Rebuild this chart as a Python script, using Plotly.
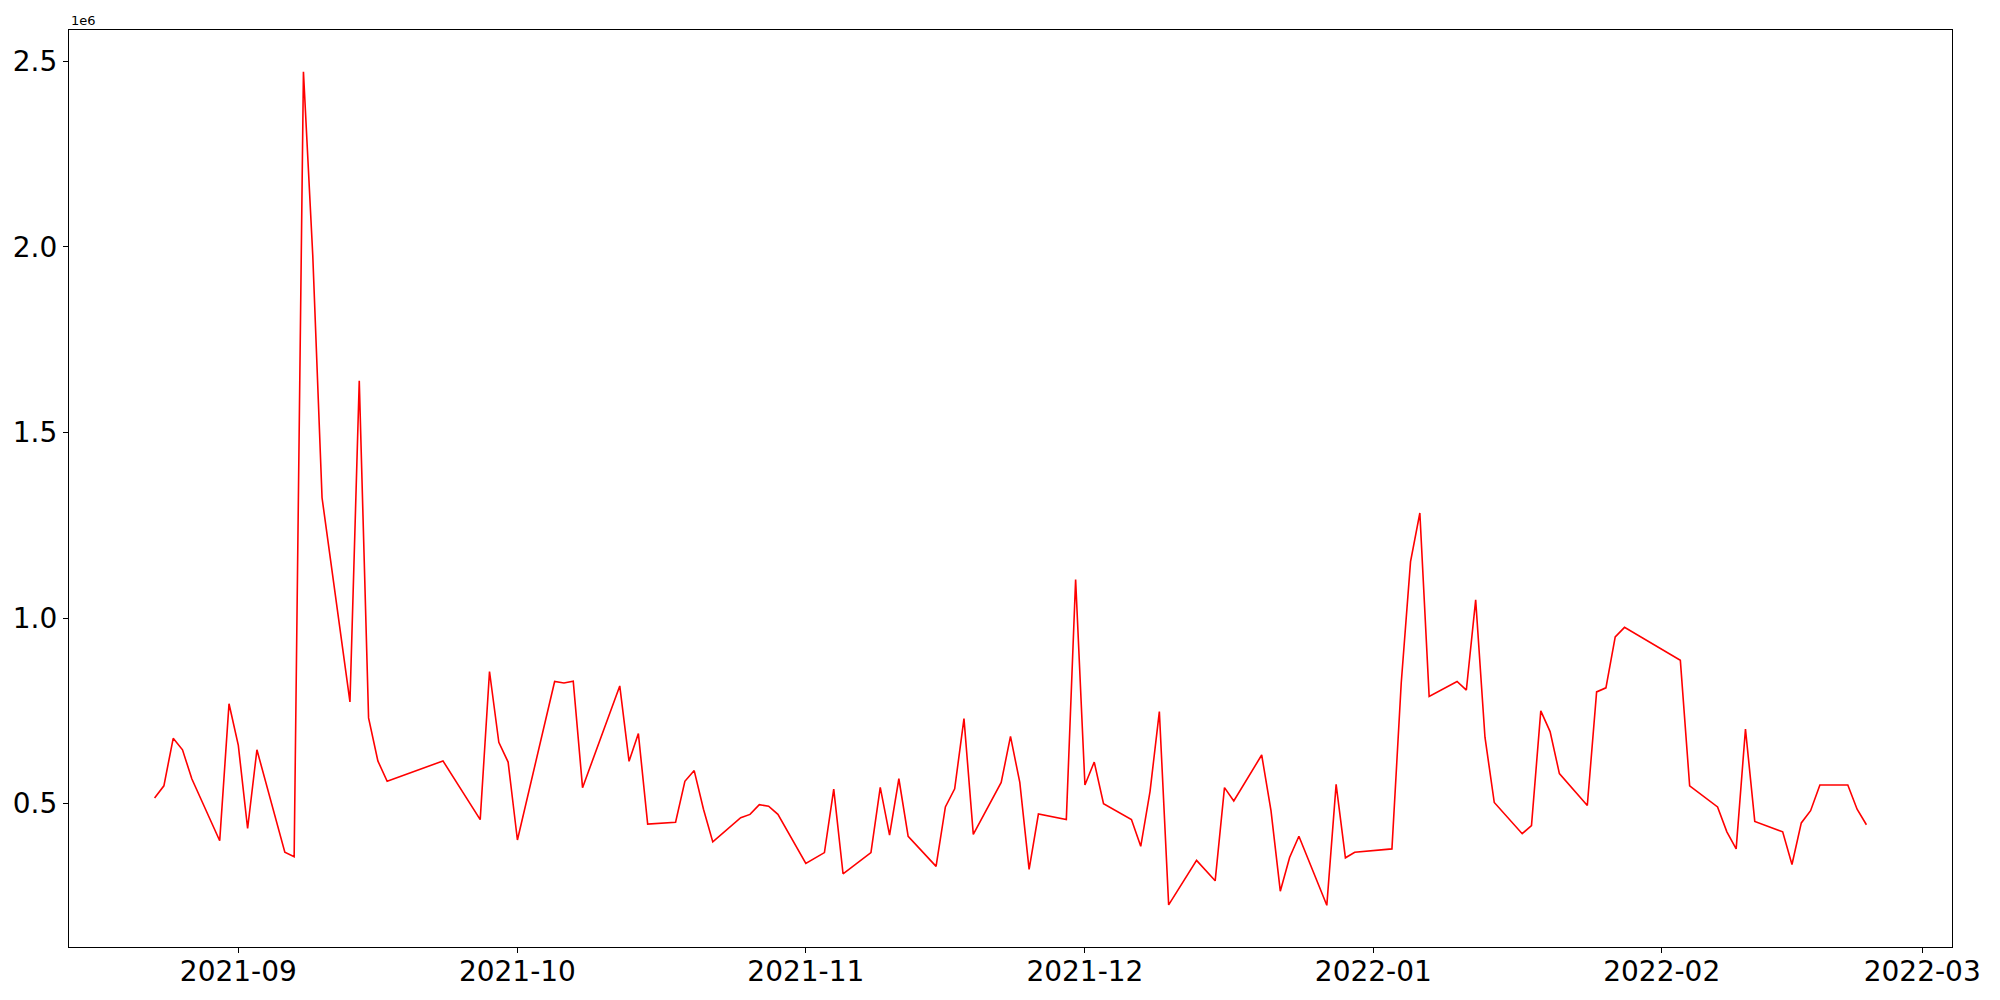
import plotly.graph_objects as go
import pandas as pd

dates = [
    "2021-08-23", "2021-08-24", "2021-08-25", "2021-08-26", "2021-08-27",
    "2021-08-30", "2021-08-31", "2021-09-01", "2021-09-02", "2021-09-03",
    "2021-09-06", "2021-09-07", "2021-09-08", "2021-09-09", "2021-09-10",
    "2021-09-13", "2021-09-14", "2021-09-15", "2021-09-16", "2021-09-17",
    "2021-09-23", "2021-09-27", "2021-09-28", "2021-09-29", "2021-09-30",
    "2021-10-01", "2021-10-05", "2021-10-06", "2021-10-07", "2021-10-08",
    "2021-10-12", "2021-10-13", "2021-10-14", "2021-10-15", "2021-10-18",
    "2021-10-19", "2021-10-20", "2021-10-21", "2021-10-22", "2021-10-25",
    "2021-10-26", "2021-10-27", "2021-10-28", "2021-10-29", "2021-11-01",
    "2021-11-03", "2021-11-04", "2021-11-05", "2021-11-08", "2021-11-09",
    "2021-11-10", "2021-11-11", "2021-11-12", "2021-11-15", "2021-11-16",
    "2021-11-17", "2021-11-18", "2021-11-19", "2021-11-22", "2021-11-23",
    "2021-11-24", "2021-11-25", "2021-11-26", "2021-11-29", "2021-11-30",
    "2021-12-01", "2021-12-02", "2021-12-03", "2021-12-06", "2021-12-07",
    "2021-12-08", "2021-12-09", "2021-12-10", "2021-12-13", "2021-12-15",
    "2021-12-16", "2021-12-17", "2021-12-20", "2021-12-21", "2021-12-22",
    "2021-12-23", "2021-12-24", "2021-12-27", "2021-12-28", "2021-12-29",
    "2021-12-30", "2022-01-03", "2022-01-04", "2022-01-05", "2022-01-06",
    "2022-01-07", "2022-01-10", "2022-01-11", "2022-01-12", "2022-01-13",
    "2022-01-14", "2022-01-17", "2022-01-18", "2022-01-19", "2022-01-20",
    "2022-01-21", "2022-01-24", "2022-01-25", "2022-01-26", "2022-01-27",
    "2022-01-28", "2022-02-03", "2022-02-04", "2022-02-07", "2022-02-08",
    "2022-02-09", "2022-02-10", "2022-02-11", "2022-02-14", "2022-02-15",
    "2022-02-16", "2022-02-17", "2022-02-18", "2022-02-21", "2022-02-22",
    "2022-02-23",
]

values = [
    515000, 548000, 676000, 645000, 567000,
    400000, 769000, 657000, 433000, 645000,
    369000, 357000, 2472000, 1978000, 1324000,
    774000, 1639000, 731000, 615000, 560000,
    615000, 457000, 856000, 665000, 612000,
    402000, 829000, 825000, 830000, 543000,
    817000, 614000, 689000, 445000, 450000,
    560000, 589000, 485000, 397000, 462000,
    471000, 497000, 493000, 471000, 339000,
    368000, 539000, 311000, 368000, 544000,
    415000, 567000, 412000, 331000, 491000,
    540000, 729000, 417000, 557000, 681000,
    557000, 323000, 472000, 457000, 1104000,
    550000, 612000, 500000, 457000, 385000,
    533000, 748000, 227000, 347000, 292000,
    543000, 507000, 631000, 481000, 264000,
    355000, 412000, 226000, 552000, 354000,
    369000, 378000, 825000, 1152000, 1283000,
    789000, 829000, 806000, 1049000, 679000,
    503000, 419000, 441000, 750000, 694000,
    581000, 495000, 801000, 812000, 949000,
    975000, 886000, 548000, 491000, 424000,
    378000, 701000, 452000, 424000, 336000,
    448000, 481000, 550000, 550000, 485000,
    443000,
]

x_tick_dates = ["2021-09-01", "2021-10-01", "2021-11-01", "2021-12-01",
                "2022-01-01", "2022-02-01", "2022-03-01"]
x_tick_labels = ["2021-09", "2021-10", "2021-11", "2021-12",
                 "2022-01", "2022-02", "2022-03"]
y_tick_vals = [500000, 1000000, 1500000, 2000000, 2500000]
y_tick_labels = ["0.5", "1.0", "1.5", "2.0", "2.5"]

dt = pd.to_datetime(dates)
span = dt.max() - dt.min()
x_range = [dt.min() - span * 0.05, dt.max() + span * 0.05]
vmin, vmax = min(values), max(values)
vspan = vmax - vmin
y_range = [vmin - vspan * 0.05, vmax + vspan * 0.05]

fig = go.Figure()
fig.add_trace(go.Scatter(x=dt, y=values, mode="lines",
                         line=dict(color="red", width=1.6),
                         showlegend=False))

axis_common = dict(showline=True, linecolor="black", linewidth=1.2, mirror=True,
                   showgrid=False, zeroline=False, ticks="outside",
                   ticklen=5, tickwidth=1.2, tickcolor="black", automargin=False,
                   tickfont=dict(family="DejaVu Sans", size=28, color="black"))

fig.update_layout(
    width=1984, height=984,
    margin=dict(l=61, r=40, t=22, b=45),
    paper_bgcolor="white", plot_bgcolor="white",
    font=dict(family="DejaVu Sans", color="black"),
    xaxis=dict(range=x_range, tickvals=pd.to_datetime(x_tick_dates),
               ticktext=x_tick_labels, ticklabelstandoff=-6, **axis_common),
    yaxis=dict(range=y_range, tickvals=y_tick_vals, ticktext=y_tick_labels,
               **axis_common),
    annotations=[dict(text="1e6", xref="paper", yref="paper", x=0, y=1,
                      xanchor="left", yanchor="bottom", showarrow=False,
                      font=dict(family="DejaVu Sans", size=13, color="black"))],
)

fig.write_html("out.html")
